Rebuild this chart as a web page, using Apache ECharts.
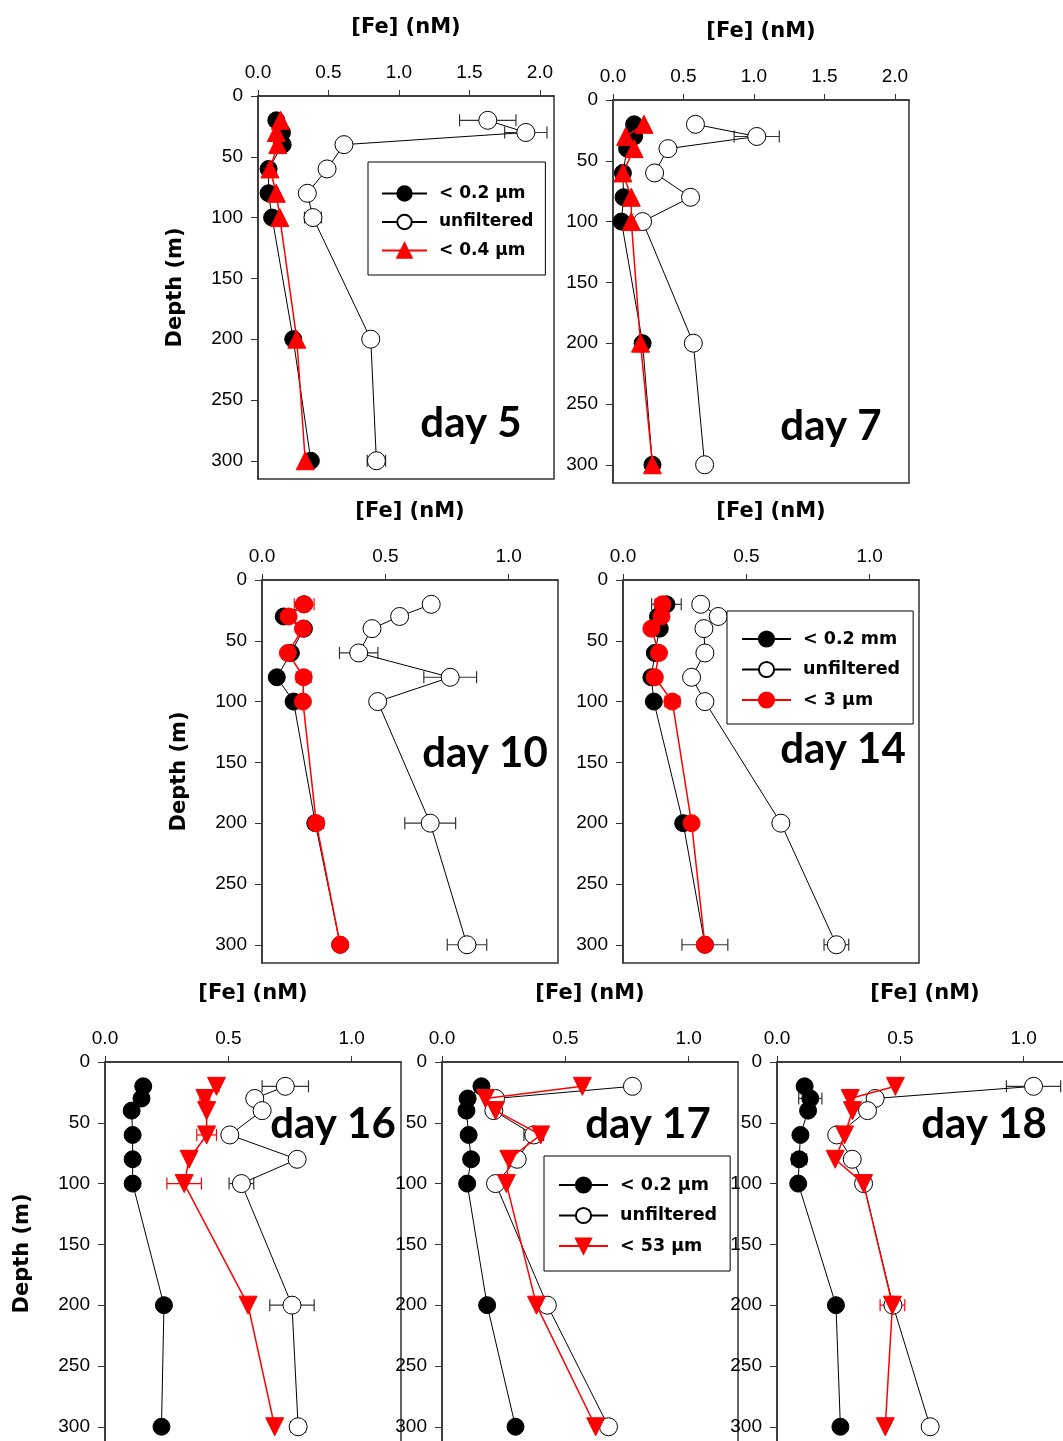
<!DOCTYPE html>
<html>
<head>
<meta charset="utf-8">
<script src="https://cdn.jsdelivr.net/npm/echarts@6/dist/echarts.min.js"></script>
<style>
html, body { margin: 0; padding: 0; background: #fff; }
#chart { width: 1063px; height: 1441px; }
</style>
</head>
<body>
<div id="chart"></div>
<script>
// sampling depths (m), same for every day
var depths = [20, 30, 40, 60, 80, 100, 200, 300];
var depthTicks = [0, 50, 100, 150, 200, 250, 300];
var feTicksWide = [0, 0.5, 1, 1.5, 2];
var feTicksNarrow = [0, 0.5, 1];

// day 5
var d5Diss = [0.13, 0.17, 0.175, 0.075, 0.075, 0.10, 0.25, 0.375];
var d5DissErr = [0, 0, 0.03, 0, 0, 0, 0.03, 0];
var d5Unf = [1.63, 1.90, 0.61, 0.49, 0.35, 0.39, 0.80, 0.84];
var d5UnfErr = [0.20, 0.15, 0, 0, 0.03, 0.06, 0.02, 0.065];
var d5Red = [0.16, 0.13, 0.14, 0.085, 0.13, 0.155, 0.275, 0.335];
var d5RedErr = [0, 0, 0.03, 0, 0, 0, 0, 0];
// day 7
var d7Diss = [0.15, 0.15, 0.10, 0.07, 0.075, 0.06, 0.21, 0.28];
var d7DissErr = [0, 0, 0, 0, 0, 0, 0, 0];
var d7Unf = [0.585, 1.02, 0.39, 0.295, 0.55, 0.21, 0.57, 0.65];
var d7UnfErr = [0, 0.16, 0, 0, 0, 0, 0, 0];
var d7Red = [0.22, 0.09, 0.15, 0.07, 0.13, 0.13, 0.195, 0.28];
var d7RedErr = [0, 0, 0, 0, 0, 0, 0, 0];
// day 10
var d10Diss = [0.17, 0.088, 0.17, 0.117, 0.06, 0.128, 0.216, 0.317];
var d10DissErr = [0, 0, 0, 0, 0, 0, 0, 0];
var d10Unf = [0.686, 0.558, 0.446, 0.392, 0.763, 0.469, 0.682, 0.831];
var d10UnfErr = [0, 0, 0, 0.078, 0.107, 0.02, 0.103, 0.08];
var d10Red = [0.171, 0.108, 0.166, 0.105, 0.169, 0.166, 0.22, 0.317];
var d10RedErr = [0.04, 0, 0, 0, 0.03, 0, 0.03, 0];
// day 14
var d14Diss = [0.176, 0.142, 0.149, 0.129, 0.115, 0.125, 0.244, 0.332];
var d14DissErr = [0.06, 0, 0.02, 0, 0, 0, 0, 0.093];
var d14Unf = [0.315, 0.386, 0.328, 0.332, 0.278, 0.332, 0.64, 0.865];
var d14UnfErr = [0, 0, 0, 0, 0, 0, 0, 0.05];
var d14Red = [0.16, 0.156, 0.115, 0.146, 0.129, 0.2, 0.278, 0.332];
var d14RedErr = [0.03, 0.02, 0, 0, 0, 0.03, 0.02, 0];
// day 16
var d16Diss = [0.155, 0.148, 0.108, 0.112, 0.112, 0.112, 0.239, 0.229];
var d16DissErr = [0, 0, 0, 0, 0, 0, 0, 0];
var d16Unf = [0.731, 0.607, 0.637, 0.506, 0.779, 0.553, 0.758, 0.783];
var d16UnfErr = [0.094, 0, 0.02, 0, 0, 0.05, 0.09, 0.03];
var d16Red = [0.452, 0.405, 0.412, 0.412, 0.341, 0.321, 0.58, 0.688];
var d16RedErr = [0.01, 0.02, 0, 0.04, 0, 0.07, 0, 0];
// day 17
var d17Diss = [0.16, 0.104, 0.099, 0.108, 0.118, 0.102, 0.183, 0.298];
var d17DissErr = [0, 0, 0, 0, 0, 0, 0, 0];
var d17Unf = [0.772, 0.217, 0.21, 0.372, 0.305, 0.217, 0.427, 0.675];
var d17UnfErr = [0, 0, 0, 0.04, 0, 0, 0, 0];
var d17Red = [0.569, 0.176, 0.217, 0.4, 0.271, 0.261, 0.383, 0.623];
var d17RedErr = [0, 0, 0, 0, 0, 0, 0, 0];
// day 18
var d18Diss = [0.112, 0.135, 0.126, 0.095, 0.09, 0.086, 0.239, 0.257];
var d18DissErr = [0.02, 0.047, 0, 0, 0.03, 0, 0, 0];
var d18Unf = [1.04, 0.398, 0.367, 0.242, 0.305, 0.351, 0.47, 0.621];
var d18UnfErr = [0.11, 0, 0, 0, 0.02, 0, 0, 0];
var d18Red = [0.48, 0.297, 0.306, 0.274, 0.236, 0.351, 0.468, 0.439];
var d18RedErr = [0, 0, 0, 0, 0, 0, 0.05, 0];

var panels = [
  { day: 'day 5', left: 258, top: 96, xMax: 2.1, ticks: feTicksWide, diss: d5Diss, dissErr: d5DissErr, unf: d5Unf, unfErr: d5UnfErr, red: d5Red, redErr: d5RedErr, dissName: '< 0.2 µm', redName: '< 0.4 µm', redSymbol: 'triangle', redRotate: 0, depthName: true, label: [471, 423] },
  { day: 'day 7', left: 613, top: 100, xMax: 2.1, ticks: feTicksWide, diss: d7Diss, dissErr: d7DissErr, unf: d7Unf, unfErr: d7UnfErr, red: d7Red, redErr: d7RedErr, dissName: '< 0.2 µm', redName: '< 0.4 µm', redSymbol: 'triangle', redRotate: 0, depthName: false, label: [831, 426] },
  { day: 'day 10', left: 262, top: 580, xMax: 1.2, ticks: feTicksNarrow, diss: d10Diss, dissErr: d10DissErr, unf: d10Unf, unfErr: d10UnfErr, red: d10Red, redErr: d10RedErr, dissName: '< 0.2 mm', redName: '< 3 µm', redSymbol: 'circle', redRotate: 0, depthName: true, label: [485, 753] },
  { day: 'day 14', left: 623, top: 580, xMax: 1.2, ticks: feTicksNarrow, diss: d14Diss, dissErr: d14DissErr, unf: d14Unf, unfErr: d14UnfErr, red: d14Red, redErr: d14RedErr, dissName: '< 0.2 mm', redName: '< 3 µm', redSymbol: 'circle', redRotate: 0, depthName: false, label: [843, 749] },
  { day: 'day 16', left: 105, top: 1062, xMax: 1.2, ticks: feTicksNarrow, diss: d16Diss, dissErr: d16DissErr, unf: d16Unf, unfErr: d16UnfErr, red: d16Red, redErr: d16RedErr, dissName: '< 0.2 µm', redName: '< 53 µm', redSymbol: 'triangle', redRotate: 180, depthName: true, label: [333, 1124] },
  { day: 'day 17', left: 442, top: 1062, xMax: 1.2, ticks: feTicksNarrow, diss: d17Diss, dissErr: d17DissErr, unf: d17Unf, unfErr: d17UnfErr, red: d17Red, redErr: d17RedErr, dissName: '< 0.2 µm', redName: '< 53 µm', redSymbol: 'triangle', redRotate: 180, depthName: false, label: [648, 1124] },
  { day: 'day 18', left: 777, top: 1062, xMax: 1.2, ticks: feTicksNarrow, diss: d18Diss, dissErr: d18DissErr, unf: d18Unf, unfErr: d18UnfErr, red: d18Red, redErr: d18RedErr, dissName: '< 0.2 µm', redName: '< 53 µm', redSymbol: 'triangle', redRotate: 180, depthName: false, label: [984, 1124] }
];

var PLOT_W = 296, PLOT_H = 383, DEPTH_MAX = 315;
var AXIS_COLOR = '#333';

function errRender(color) {
  return function (params, api) {
    var e = api.value(2);
    if (!e) return;
    var x = api.value(0), d = api.value(1);
    var a = api.coord([x - e, d]);
    var b = api.coord([x + e, d]);
    var h = 6;
    var st = { stroke: color, lineWidth: 1.2 };
    return {
      type: 'group',
      children: [
        { type: 'line', shape: { x1: a[0], y1: a[1], x2: b[0], y2: b[1] }, style: st },
        { type: 'line', shape: { x1: a[0], y1: a[1] - h, x2: a[0], y2: a[1] + h }, style: st },
        { type: 'line', shape: { x1: b[0], y1: b[1] - h, x2: b[0], y2: b[1] + h }, style: st }
      ]
    };
  };
}

function pairs(vals) {
  return depths.map(function (d, k) { return [vals[k], d]; });
}
function errPairs(vals, errs) {
  return depths.map(function (d, k) { return [vals[k], d, errs[k]]; });
}

var grids = [], xAxes = [], yAxes = [], series = [], graphics = [];

panels.forEach(function (p, i) {
  grids.push({
    left: p.left, top: p.top, width: PLOT_W, height: PLOT_H,
    show: true, borderColor: AXIS_COLOR, borderWidth: 1.5,
    containLabel: false, outerBoundsMode: 'none'
  });
  xAxes.push({
    gridIndex: i, type: 'value', position: 'top', min: 0, max: p.xMax,
    name: '[Fe] (nM)', nameLocation: 'middle', nameGap: 58,
    nameTextStyle: { fontFamily: 'DejaVu Sans', fontWeight: 'bold', fontSize: 21, color: '#000' },
    axisLine: { show: true, lineStyle: { color: AXIS_COLOR, width: 1.5 } },
    axisTick: { show: true, inside: false, length: 6, customValues: p.ticks, lineStyle: { color: AXIS_COLOR } },
    axisLabel: {
      customValues: p.ticks, margin: 14, fontFamily: 'Liberation Sans', fontSize: 19, color: '#000',
      formatter: function (v) { return v.toFixed(1); }
    },
    splitLine: { show: false }
  });
  yAxes.push({
    gridIndex: i, type: 'value', inverse: true, min: 0, max: DEPTH_MAX,
    name: p.depthName ? 'Depth (m)' : '', nameLocation: 'middle', nameGap: 72, nameRotate: 90,
    nameTextStyle: { fontFamily: 'DejaVu Sans', fontWeight: 'bold', fontSize: 21, color: '#000' },
    axisLine: { show: true, lineStyle: { color: AXIS_COLOR, width: 1.5 } },
    axisTick: { show: true, inside: false, length: 7, customValues: depthTicks, lineStyle: { color: AXIS_COLOR } },
    axisLabel: { customValues: depthTicks, margin: 15, fontFamily: 'Liberation Sans', fontSize: 19, color: '#000' },
    splitLine: { show: false }
  });

  // error bars under the symbols
  [[p.diss, p.dissErr, '#333'], [p.unf, p.unfErr, '#333'], [p.red, p.redErr, '#ff0000']].forEach(function (s, j) {
    series.push({
      type: 'custom', name: 'err' + i + '_' + j, xAxisIndex: i, yAxisIndex: i,
      renderItem: errRender(s[2]), encode: { x: 0, y: 1 },
      data: errPairs(s[0], s[1]), z: 1, silent: true, clip: false
    });
  });

  series.push({
    type: 'line', name: p.dissName, xAxisIndex: i, yAxisIndex: i, data: pairs(p.diss),
    symbol: 'circle', symbolSize: 17, z: 3,
    itemStyle: { color: '#000', borderColor: '#000', borderWidth: 1 },
    lineStyle: { color: '#000', width: 1 }
  });
  series.push({
    type: 'line', name: 'unfiltered', xAxisIndex: i, yAxisIndex: i, data: pairs(p.unf),
    symbol: 'circle', symbolSize: 18, z: 3,
    itemStyle: { color: '#fff', borderColor: '#000', borderWidth: 1 },
    lineStyle: { color: '#000', width: 1 }
  });
  series.push({
    type: 'line', name: p.redName, xAxisIndex: i, yAxisIndex: i, data: pairs(p.red),
    symbol: p.redSymbol, symbolRotate: p.redRotate, symbolSize: p.redSymbol === 'circle' ? 17 : 18, z: 4,
    itemStyle: { color: '#ff0000', borderColor: '#ff0000', borderWidth: 1 },
    lineStyle: { color: '#ff0000', width: 1.5 }
  });

  graphics.push({
    type: 'text', x: p.label[0], y: p.label[1], z: 10,
    style: {
      text: p.day, fontFamily: 'Lato', fontWeight: 'bold', fontSize: 42, fill: '#000',
      textAlign: 'center', textVerticalAlign: 'middle'
    }
  });
});

function makeLegend(names, left, top, itemWidth, itemHeight, gap, pad, fontSize) {
  return {
    data: names, orient: 'vertical', left: left, top: top,
    itemWidth: itemWidth, itemHeight: itemHeight, itemGap: gap, padding: pad,
    borderColor: '#000', borderWidth: 1, backgroundColor: '#fff',
    selectedMode: false,
    textStyle: { fontFamily: 'DejaVu Sans', fontWeight: 'bold', fontSize: fontSize, color: '#000', padding: [0, 0, 0, 7] }
  };
}

var legends = [
  makeLegend(['< 0.2 µm', 'unfiltered', '< 0.4 µm'], 368, 162, 45, 18, 11.5, [23, 12, 16, 13], 17),
  makeLegend(['< 0.2 mm', 'unfiltered', '< 3 µm'], 727, 611, 49, 19, 12.5, [19, 13, 15, 14], 17.5),
  makeLegend(['< 0.2 µm', 'unfiltered', '< 53 µm'], 544, 1156, 49, 19, 12.5, [20, 13, 16, 14], 17.5)
];

var chart = echarts.init(document.getElementById('chart'));
chart.setOption({
  animation: false,
  backgroundColor: '#fff',
  grid: grids,
  xAxis: xAxes,
  yAxis: yAxes,
  legend: legends,
  series: series,
  graphic: graphics
});
window.addEventListener('resize', function () { chart.resize(); });
</script>
</body>
</html>
